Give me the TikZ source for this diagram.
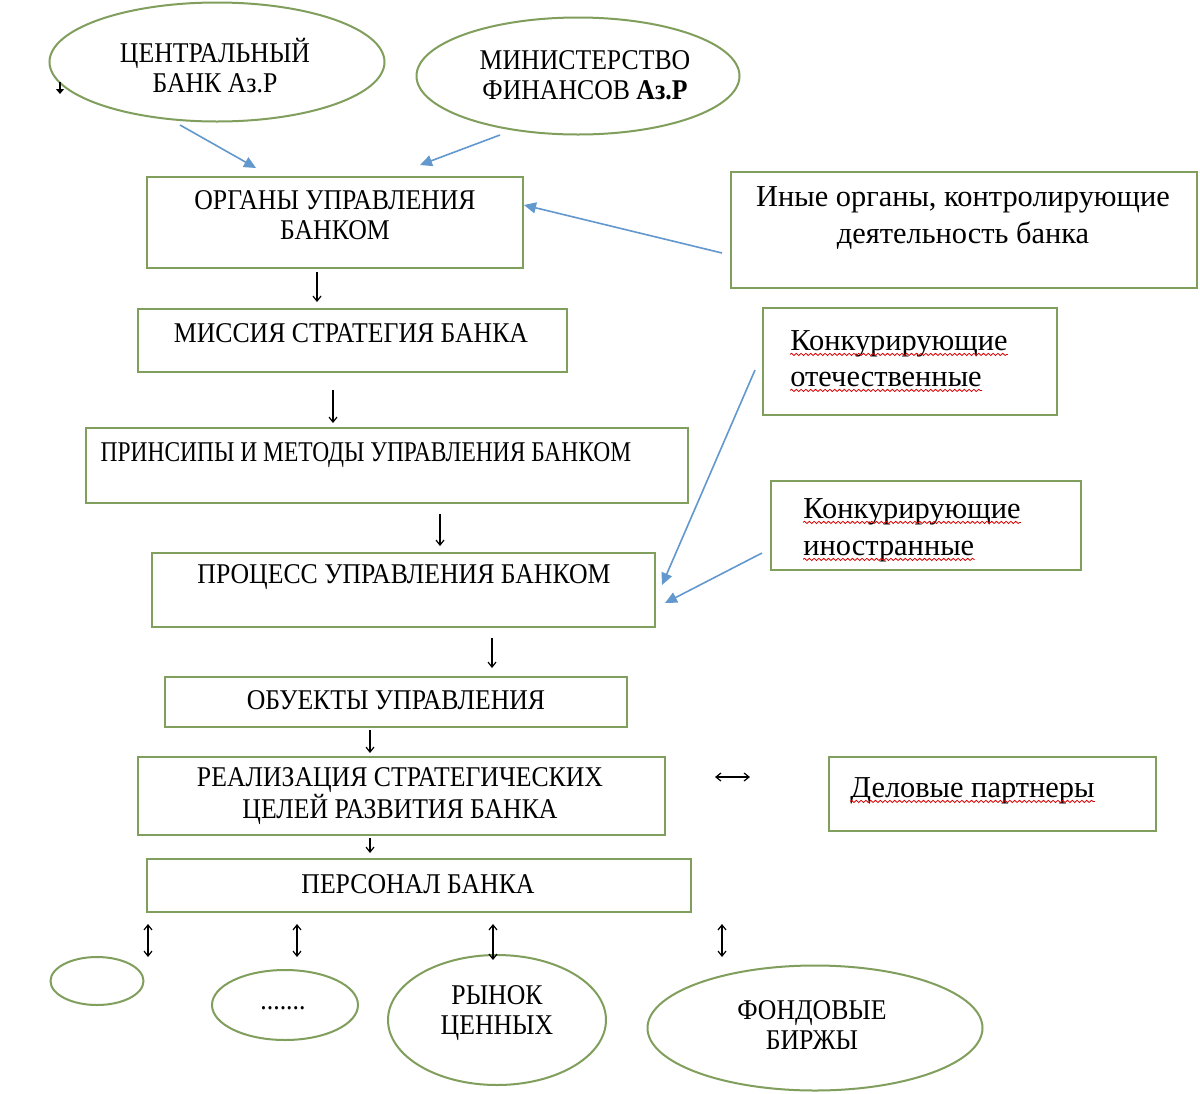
\documentclass[tikz,border=0pt]{standalone}
\usepackage{fontspec}
\setmainfont{Liberation Serif}
\newfontfamily\condfont[FakeStretch=0.9]{Liberation Serif}
\newfontfamily\narrowfont[FakeStretch=0.82]{Liberation Serif}
\usetikzlibrary{arrows.meta,shapes.geometric,fit,decorations.pathmorphing}
\definecolor{boxgreen}{RGB}{128,158,92}
\definecolor{arrblue}{RGB}{98,152,206}
\begin{document}
\begin{tikzpicture}[x=0.5pt,y=-0.5pt,
  box/.style={draw=boxgreen, line width=1pt, rectangle, inner sep=0pt},
  ell/.style={draw=boxgreen, line width=1pt, ellipse, inner sep=0pt},
  caps/.style={font=\condfont\fontsize{14.3}{15}\selectfont, align=center, inner sep=0pt},
  capsn/.style={font=\narrowfont\fontsize{14.3}{15}\selectfont, align=center, inner sep=0pt},
  lower/.style={font=\fontsize{15.2}{18.5}\selectfont, align=center, inner sep=0pt},
  lowl/.style={font=\fontsize{15.2}{18.5}\selectfont, inner sep=0pt, anchor=base west},
  bl/.style={draw=arrblue, line width=0.8pt, -{Triangle[length=6pt,width=5.5pt]}},
  dn/.style={line width=0.6pt, -{Straight Barb[length=2.5pt,width=4pt]}},
  ud/.style={line width=0.6pt, {Straight Barb[length=2.5pt,width=4pt]}-{Straight Barb[length=2.5pt,width=4pt]}},
  wav/.style={draw=red!85!black, line width=0.4pt, decorate, decoration={snake, amplitude=0.55pt, segment length=2.4pt}}
]
\useasboundingbox (0,0) rectangle (1200,1093);
\fill[white] (0,0) rectangle (1200,1093);

% top ellipses
\node[ell, minimum width=167.5pt, minimum height=59.5pt] (cb) at (217,62) {};
\node[caps] (cbt) at (215,66) {ЦЕНТРАЛЬНЫЙ\\БАНК Аз.Р};
\node[ell, minimum width=161.5pt, minimum height=58.5pt] (mf) at (578,76) {};
\node[caps] (mft) at (585,75) {МИНИСТЕРСТВО\\ФИНАНСОВ \textbf{Аз.Р}};
\coordinate (m1) at (60,82);
\coordinate (m2) at (60,94);
\draw[line width=0.6pt, -{Triangle[length=2.5pt,width=4pt]}] (m1) -- (m2);

% boxes
\node[box, fit={(147,177) (523,268)}] (org) {};
\node[caps] (orgt) at (335,215) {ОРГАНЫ УПРАВЛЕНИЯ\\БАНКОМ};
\node[box, fit={(731,172) (1197,288)}] (inye) {};
\node[lower] (inyet) at (963,218) {Иные органы, контролирующие\\деятельность банка};
\node[box, fit={(138,309) (567,372)}] (mis) {};
\node[caps] (mist) at (351,333) {МИССИЯ СТРАТЕГИЯ БАНКА};
\node[box, fit={(86,428) (688,503)}] (pri) {};
\node[capsn] (prit) at (366,455) {ПРИНСИПЫ И МЕТОДЫ УПРАВЛЕНИЯ БАНКОМ};
\node[box, fit={(152,553) (655,627)}] (pro) {};
\node[caps] (prot) at (404,577) {ПРОЦЕСС УПРАВЛЕНИЯ БАНКОМ};
\node[box, fit={(763,308) (1057,415)}] (ko) {};
\node[lowl] (ko1) at (790,350) {Конкурирующие};
\node[lowl] (ko2) at (790,386) {отечественные};
\node[box, fit={(771,481) (1081,570)}] (ki) {};
\node[lowl] (ki1) at (803,518) {Конкурирующие};
\node[lowl] (ki2) at (803,555) {иностранные};
\node[box, fit={(165,677) (627,727)}] (obj) {};
\node[caps] (objt) at (396,700) {ОБУЕКТЫ УПРАВЛЕНИЯ};
\node[box, fit={(138,757) (665,835)}] (rea) {};
\node[caps] (reat) at (400,796) {РЕАЛИЗАЦИЯ СТРАТЕГИЧЕСКИХ\\ЦЕЛЕЙ РАЗВИТИЯ БАНКА};
\node[box, fit={(829,757) (1156,831)}] (del) {};
\node[lowl] (delt) at (850,797) {Деловые партнеры};
\node[box, fit={(147,859) (691,912)}] (per) {};
\node[caps] (pert) at (418,884) {ПЕРСОНАЛ БАНКА};

% bottom ellipses
\node[ell, minimum width=46.5pt, minimum height=24pt] (e1) at (97,981) {};
\node[ell, minimum width=73pt, minimum height=35pt] (e2) at (285,1005) {};
\node[caps] (e2t) at (283,1008) {.......};
\node[ell, minimum width=109pt, minimum height=65pt] (e3) at (497,1020) {};
\node[caps] (e3t) at (497,1013) {РЫНОК\\ЦЕННЫХ};
\node[ell, minimum width=167.5pt, minimum height=62.5pt] (e4) at (815,1028) {};
\node[caps] (e4t) at (812,1025) {ФОНДОВЫЕ\\БИРЖЫ};

% wavy underlines
\foreach \n in {ko1,ko2,ki1,ki2,delt}{
  \draw[wav] ([yshift=-2.2pt]\n.base west) -- ([yshift=-2.2pt]\n.base east);
}

% blue arrows
\coordinate (b1s) at (180,125); \coordinate (b1e) at (256,168);
\coordinate (b2s) at (500,135); \coordinate (b2e) at (420,165);
\coordinate (b3s) at (722,253); \coordinate (b3e) at (524,205);
\coordinate (b4s) at (755,370); \coordinate (b4e) at (662,585);
\coordinate (b5s) at (762,553); \coordinate (b5e) at (665,603);
\draw[bl] (b1s) -- (b1e);
\draw[bl] (b2s) -- (b2e);
\draw[bl] (b3s) -- (b3e);
\draw[bl] (b4s) -- (b4e);
\draw[bl] (b5s) -- (b5e);

% black small arrows
\coordinate (d1s) at (317,272); \coordinate (d1e) at (317,302);
\coordinate (d2s) at (333,390); \coordinate (d2e) at (333,423);
\coordinate (d3s) at (440,514); \coordinate (d3e) at (440,546);
\coordinate (d4s) at (492,638); \coordinate (d4e) at (492,668);
\coordinate (d5s) at (370,730); \coordinate (d5e) at (370,753);
\coordinate (d6s) at (370,838); \coordinate (d6e) at (370,853);
\draw[dn] (d1s) -- (d1e);
\draw[dn] (d2s) -- (d2e);
\draw[dn] (d3s) -- (d3e);
\draw[dn] (d4s) -- (d4e);
\draw[dn] (d5s) -- (d5e);
\draw[dn] (d6s) -- (d6e);
\coordinate (h1) at (715,777); \coordinate (h2) at (750,777);
\draw[ud] (h1) -- (h2);
\coordinate (u1s) at (148,924); \coordinate (u1e) at (148,957);
\coordinate (u2s) at (297,924); \coordinate (u2e) at (297,957);
\coordinate (u3s) at (493,924); \coordinate (u3e) at (493,960);
\coordinate (u4s) at (722,924); \coordinate (u4e) at (722,957);
\draw[ud] (u1s) -- (u1e);
\draw[ud] (u2s) -- (u2e);
\draw[ud] (u3s) -- (u3e);
\draw[ud] (u4s) -- (u4e);
\end{tikzpicture}
\end{document}
